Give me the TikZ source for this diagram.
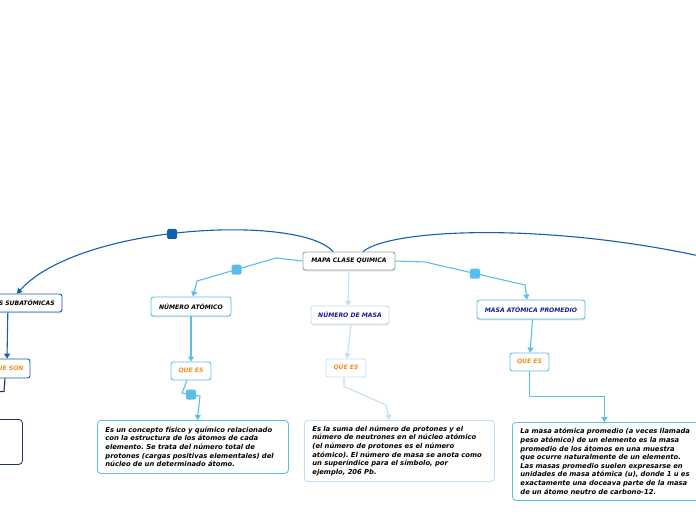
\documentclass[tikz,border=0pt]{standalone}
\usepackage{fontspec}
\setmainfont{DejaVu Sans}
\usetikzlibrary{arrows.meta}
\usetikzlibrary{shadows}
\frenchspacing

\definecolor{dblue}{RGB}{20,95,170}
\definecolor{lblue}{RGB}{90,190,235}
\definecolor{pblue}{RGB}{195,222,242}
\definecolor{navytext}{RGB}{25,25,150}
\definecolor{navyline}{RGB}{30,50,90}
\definecolor{orangetext}{RGB}{245,140,30}
\definecolor{greyline}{RGB}{160,160,160}

\tikzset{
    titlebox/.style={rectangle, rounded corners=2.5pt, draw, line width=0.9pt, fill=white, inner sep=0pt,
        font=\fontsize{6.1}{7}\selectfont\bfseries\itshape,
        drop shadow={shadow xshift=0pt, shadow yshift=-1.3pt, opacity=0.25}},
    quebox/.style={rectangle, rounded corners=2.5pt, draw, line width=0.9pt, fill=white, inner sep=0pt,
        text=orangetext, font=\fontsize{6.1}{7}\selectfont\bfseries\itshape},
    descbox/.style={rectangle, rounded corners=3.5pt, draw, line width=0.8pt, fill=white, anchor=north west,
        inner xsep=8pt, inner ysep=5pt, align=left,
        font=\fontsize{6.8}{8.6}\selectfont\bfseries\itshape},
    marker/.style={rectangle, rounded corners=1.5pt, fill, minimum size=10pt, inner sep=0pt},
    link/.style={line width=1.1pt, -{Triangle[width=6pt,length=5pt]}}
}

\begin{document}
\begin{tikzpicture}[x=1pt, y=-1pt]
    \useasboundingbox (0,0) rectangle (696,520);
    \clip (0,0) rectangle (696,520);

    \node [titlebox, draw=greyline, minimum width=92pt, minimum height=18pt] (mapa) at (349,261) {MAPA CLASE QUIMICA};
    \node [titlebox, draw=dblue, minimum width=108pt, minimum height=18pt] (subat) at (8,303) {PARTÍCULAS SUBATÓMICAS};
    \node [titlebox, draw=lblue, minimum width=80pt, minimum height=19pt] (atomico) at (191,306.5) {NÚMERO ATÓMICO};
    \node [titlebox, draw=pblue, text=navytext, minimum width=78pt, minimum height=18pt] (masa) at (350,315) {NÚMERO DE MASA};
    \node [titlebox, draw=lblue, text=navytext, minimum width=108pt, minimum height=19pt] (promedio) at (531,309.5) {MASA ATÓMICA PROMEDIO};

    \node [quebox, draw=dblue, minimum width=44pt, minimum height=19pt] (queson) at (8,368.5) {QUE SON};
    \node [quebox, draw=lblue, minimum width=40pt, minimum height=18pt] (quees1) at (191,371) {QUE ES};
    \node [quebox, draw=pblue, minimum width=40pt, minimum height=18pt] (quees2) at (346,368) {QUE ES};
    \node [quebox, draw=lblue, minimum width=39pt, minimum height=18pt] (quees3) at (529.5,362) {QUE ES};

    \node [descbox, draw=navyline, minimum width=124pt, minimum height=45pt] (sondesc) at (-102,419) {};
    \node [descbox, draw=lblue, text width=175pt, minimum height=53pt] (desc1) at (97,420) {Es un concepto físico y químico relacionado\\con la estructura de los átomos de cada\\elemento. Se trata del número total de\\protones (cargas positivas elementales) del\\núcleo de un determinado átomo.};
    \node [descbox, draw=pblue, text width=174pt, minimum height=61pt] (desc2) at (304,420) {Es la suma del número de protones y el\\número de neutrones en el núcleo atómico\\(el número de protones es el número\\atómico). El número de masa se anota como\\un superíndice para el símbolo, por\\ejemplo, 206 Pb.};
    \node [descbox, draw=lblue, text width=172pt, minimum height=78pt] (desc3) at (512,422) {La masa atómica promedio (a veces llamada\\peso atómico) de un elemento es la masa\\promedio de los átomos en una muestra\\que ocurre naturalmente de un elemento.\\Las masas promedio suelen expresarse en\\unidades de masa atómica (u), donde 1 u es\\exactamente una doceava parte de la masa\\de un átomo neutro de carbono-12.};

    \coordinate (offright) at (790,280);

    \draw [link, dblue] ([xshift=-16pt]mapa.north) .. controls (300,214) and (80,224) .. node [marker, pos=0.535, dblue] (mk1) {} ([xshift=9pt]subat.north);
    \draw [link, dblue] ([xshift=14pt]mapa.north) .. controls (395,225) and (600,220) .. (offright);
    \draw [link, lblue] (mapa.west) -- (276,258) -- node [marker, lblue] (mk2) {} (197,281) -- ([xshift=2pt]atomico.north);
    \draw [link, pblue] (mapa.south) -- ([xshift=-2pt]masa.north);
    \draw [link, lblue] (mapa.east) -- (425,262) -- node [marker, lblue] (mk3) {} (525,285) -- ([xshift=-4pt]promedio.north);

    \draw [link, dblue] (subat) -- ([xshift=-1pt]queson.north);
    \draw [link, navyline] ([xshift=-3pt]queson.south) -- ++(-1,13) -| (sondesc.north);
    \draw [link, lblue] (atomico) -- (quees1);
    \draw [link, lblue] ([xshift=-4pt]quees1.south) -- (182,393) -- node [marker, lblue] (mk4) {} (200,396) -- ([xshift=4.5pt]desc1.north);
    \draw [link, pblue] ([xshift=1pt]masa.south) -- (quees2);
    \draw [link, pblue] ([xshift=-2pt]quees2.south) -- ++(0,9) -- (386,405) -- ([xshift=-10pt]desc2.north);
    \draw [link, lblue] ([xshift=1.5pt]promedio.south) -- (quees3);
    \draw [link, lblue] (quees3.south) -- ++(0,25) -| ([xshift=-2pt]desc3.north);
\end{tikzpicture}
\end{document}
